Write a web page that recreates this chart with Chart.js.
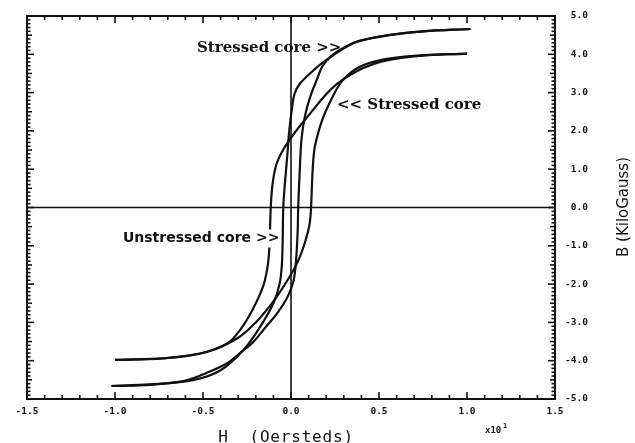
<!DOCTYPE html>
<html>
<head>
<meta charset="utf-8">
<script src="https://cdn.jsdelivr.net/npm/chart.js@4/dist/chart.umd.min.js"></script>
<style>
  html,body{margin:0;padding:0;background:#fff;}
  #wrap{width:635px;height:443px;position:relative;}
</style>
</head>
<body>
<div id="wrap"><canvas id="c" width="635" height="443"></canvas></div>
<script>
// ---- tick labels ----
const hTickLabels = ['-1.5','-1.0','-0.5','0.0','0.5','1.0','1.5'];
const bTickLabels = ['5.0','4.0','3.0','2.0','1.0','0.0','-1.0','-2.0','-3.0','-4.0','-5.0'];

// ---- loop with saturation ~4.0 (wide, coercivity ~0.115) ----
const wideDescH = [1.0, 0.73, 0.47, 0.26, 0.09, -0.024, -0.081, -0.105, -0.115, -0.12, -0.125, -0.135, -0.16, -0.22, -0.29, -0.36, -0.52, -0.7, -1.0];
const wideDescB = [4.02, 3.96, 3.75, 3.22, 2.35, 1.66, 1.15, 0.6, 0.0, -0.7, -1.2, -1.6, -2.08, -2.68, -3.2, -3.54, -3.82, -3.93, -3.98];
const wideAscH = [-1.0, -0.73, -0.47, -0.3, -0.2, -0.1, -0.02, 0.04, 0.08, 0.105, 0.114, 0.12, 0.126, 0.136, 0.176, 0.233, 0.29, 0.38, 0.52, 0.7, 1.0];
const wideAscB = [-3.98, -3.94, -3.76, -3.4, -3.0, -2.45, -1.9, -1.4, -0.9, -0.45, 0.0, 0.7, 1.2, 1.6, 2.27, 2.86, 3.3, 3.65, 3.86, 3.96, 4.02];

// ---- loop with saturation ~4.65 (steep, coercivity ~0.044) ----
const steepDescH = [1.02, 0.75, 0.55, 0.375, 0.28, 0.18, 0.108, 0.05, 0.02, 0.006, -0.01, -0.022, -0.035, -0.044, -0.047, -0.052, -0.065, -0.1, -0.18, -0.27, -0.4, -0.55, -0.8, -1.02];
const steepDescB = [4.66, 4.6, 4.5, 4.33, 4.1, 3.78, 3.5, 3.23, 2.97, 2.6, 2.0, 1.3, 0.6, 0.0, -0.8, -1.5, -2.0, -2.5, -3.15, -3.72, -4.25, -4.5, -4.62, -4.66];
const steepAscH = [-1.02, -0.8, -0.6, -0.48, -0.36, -0.29, -0.22, -0.14, -0.08, -0.02, 0.015, 0.03, 0.038, 0.041, 0.05, 0.06, 0.08, 0.11, 0.148, 0.18, 0.24, 0.32, 0.39, 0.56, 0.75, 1.02];
const steepAscB = [-4.66, -4.63, -4.52, -4.32, -4.06, -3.8, -3.54, -3.1, -2.77, -2.34, -1.9, -1.3, -0.6, 0.0, 1.0, 1.8, 2.4, 2.9, 3.35, 3.7, 4.0, 4.22, 4.35, 4.5, 4.6, 4.66];

function pts(h, b){ return h.map((v,i)=>({x:v, y:b[i]})); }

function ds(h,b){
  return {data: pts(h,b), showLine:true, borderColor:'#111', borderWidth:2.2,
          pointRadius:0, tension:0.35, fill:false};
}

const deco = {
  id:'deco',
  beforeDraw(chart){
    const c = chart.ctx;
    c.save(); c.fillStyle='#fff'; c.fillRect(0,0,chart.width,chart.height); c.restore();
  },
  beforeDatasetsDraw(chart){
    const c = chart.ctx, a = chart.chartArea, xs = chart.scales.x, ys = chart.scales.y;
    c.save();
    c.strokeStyle='#111'; c.lineWidth=1.6;
    const x0 = xs.getPixelForValue(0), y0 = ys.getPixelForValue(0);
    c.beginPath(); c.moveTo(a.left,y0); c.lineTo(a.right,y0); c.stroke();
    c.beginPath(); c.moveTo(x0,a.top); c.lineTo(x0,a.bottom); c.stroke();
    c.restore();
  },
  afterDatasetsDraw(chart){
    const c = chart.ctx, a = chart.chartArea, xs = chart.scales.x, ys = chart.scales.y;
    c.save();
    c.strokeStyle='#111'; c.lineWidth=2;
    c.strokeRect(a.left, a.top, a.right-a.left, a.bottom-a.top);
    c.lineWidth=1.6;
    // x ticks (every 0.1), top & bottom, inward
    for(let i=-15;i<=15;i++){
      const px = xs.getPixelForValue(i/10);
      const L = (i%5===0)?7:4;
      c.beginPath(); c.moveTo(px,a.bottom); c.lineTo(px,a.bottom-L); c.stroke();
      c.beginPath(); c.moveTo(px,a.top); c.lineTo(px,a.top+L); c.stroke();
    }
    // y ticks (every 0.1), left & right, inward
    for(let i=-50;i<=50;i++){
      const py = ys.getPixelForValue(i/10);
      const L = (i%10===0)?7:(i%5===0?5:3.5);
      c.beginPath(); c.moveTo(a.left,py); c.lineTo(a.left+L,py); c.stroke();
      c.beginPath(); c.moveTo(a.right,py); c.lineTo(a.right-L,py); c.stroke();
    }
    // tick labels
    c.fillStyle='#111';
    c.font = "bold 9.5px 'DejaVu Sans Mono'";
    c.textAlign='center'; c.textBaseline='middle';
    hTickLabels.forEach(t=>{ c.fillText(t, xs.getPixelForValue(parseFloat(t)), a.bottom+13); });
    c.textAlign='right';
    bTickLabels.forEach(t=>{ c.fillText(t, a.right+33, ys.getPixelForValue(parseFloat(t))); });
    // multiplier
    c.textAlign='left';
    c.font = "bold 9px 'DejaVu Sans Mono'";
    c.fillText('x10', 485, 431);
    c.font = "bold 7px 'DejaVu Sans Mono'";
    c.fillText('1', 503, 426);
    // axis titles
    c.font = "16px 'DejaVu Sans Mono'";
    c.letterSpacing = '0.8px';
    c.textAlign='center'; c.textBaseline='alphabetic';
    c.fillText('H  (Oersteds)', 286, 442);
    c.letterSpacing = '0px';
    c.save();
    c.translate(624, 207);
    c.rotate(-Math.PI/2);
    c.font = "15px 'DejaVu Sans'";
    c.textBaseline='middle';
    c.fillText('B (KiloGauss)', 0, 0);
    c.restore();
    // annotations
    c.textAlign='left'; c.textBaseline='middle';
    c.font = "bold 15px 'DejaVu Serif'";
    c.fillText('Stressed core >>', xs.getPixelForValue(-0.534), ys.getPixelForValue(4.15));
    c.fillText('<< Stressed core', xs.getPixelForValue(0.261), ys.getPixelForValue(2.68));
    c.font = "bold 14px 'DejaVu Sans'";
    const ux = xs.getPixelForValue(-0.955), uy = ys.getPixelForValue(-0.81);
    const uw = c.measureText('Unstressed core >>').width;
    c.fillStyle='#fff';
    c.fillRect(ux-2, uy-9, uw-1, 18);
    c.fillStyle='#111';
    c.fillText('Unstressed core >>', ux, uy);
    c.restore();
  }
};

new Chart(document.getElementById('c'), {
  type:'scatter',
  data:{ datasets:[ ds(wideDescH,wideDescB), ds(wideAscH,wideAscB), ds(steepDescH,steepDescB), ds(steepAscH,steepAscB) ] },
  options:{
    responsive:false, animation:false,
    layout:{ padding:{left:27, right:80, top:16, bottom:44} },
    plugins:{ legend:{display:false}, tooltip:{enabled:false} },
    scales:{
      x:{ type:'linear', min:-1.5, max:1.5, display:false },
      y:{ type:'linear', min:-5, max:5, display:false }
    }
  },
  plugins:[deco]
});
</script>
</body>
</html>
